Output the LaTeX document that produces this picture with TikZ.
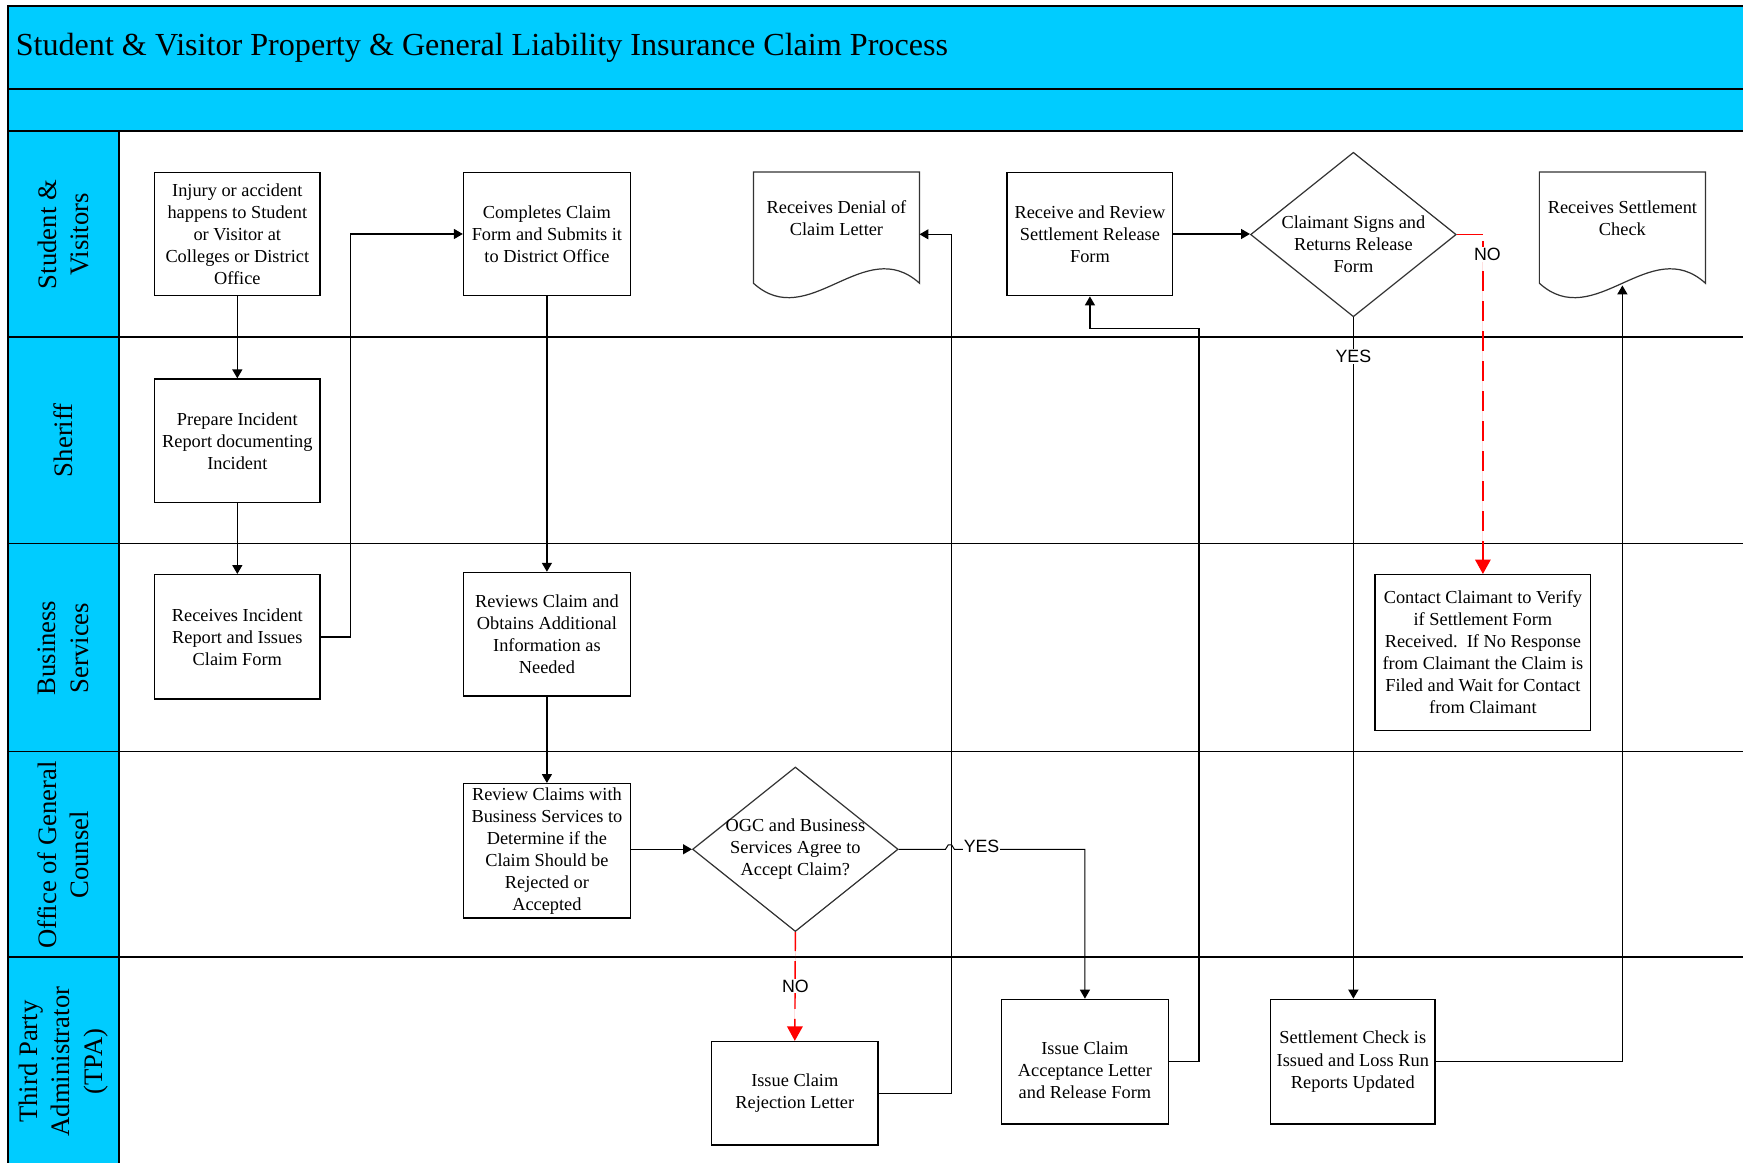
\documentclass[tikz,border=0pt]{standalone}
\usepackage{fontspec}
\setmainfont{Liberation Serif}
\newfontfamily\labelsans{Liberation Sans}
\usetikzlibrary{arrows.meta,shapes.geometric,calc}

\definecolor{laneblue}{HTML}{00CCFF}
\definecolor{nored}{HTML}{FF0000}

\newcommand{\boxfont}{\fontsize{16.5pt}{19.8pt}\selectfont}
\newcommand{\lanefont}{\fontsize{24pt}{29pt}\selectfont}
\newcommand{\titlefont}{\fontsize{28.9pt}{34pt}\selectfont}
\newcommand{\branchfont}{\labelsans\fontsize{16pt}{19pt}\selectfont}

\begin{document}
\begin{tikzpicture}[x=1pt,y=-1pt,
  frame/.style={line width=1.8pt},
  lanerule/.style={line width=1.4pt},
  stepbox/.style={draw, line width=1.3pt, align=center, font=\boxfont, inner sep=1pt,
    minimum width=149pt, minimum height=111pt},
  docbox/.style={align=center, font=\boxfont, inner sep=0pt,
    minimum width=149pt, minimum height=83pt},
  docline/.style={line width=1.1pt, draw=black!80},
  decision/.style={draw=black!80, diamond, line width=1.1pt, inner sep=0pt,
    minimum width=185pt, minimum height=148pt},
  txt/.style={align=center, font=\boxfont, inner sep=0pt},
  lanelabel/.style={rotate=90, align=center, font=\lanefont, inner sep=0pt},
  flow/.style={line width=1.1pt, -{Triangle[length=8pt,width=9pt]}},
  noflow/.style={line width=1.3pt, draw=nored, fill=nored, -{Triangle[length=13pt,width=14pt]}},
  branch/.style={font=\branchfont, fill=white, text=black, inner sep=1pt},
]
\useasboundingbox (0,0) rectangle (1568,1046);

% header bands and lane column
\fill[laneblue] (7,5) rectangle (1568,118);
\fill[laneblue] (7,118) rectangle (107,1046);
\draw[frame] (1568,5) -- (7,5) -- (7,1046);
\draw[frame] (7,80) -- (1568,80);
\draw[frame] (7,118) -- (1568,118);
\draw[lanerule] (107,118) -- (107,1046);
\foreach \y in {303,489,676,861} \draw[lanerule] (7,\y) -- (1568,\y);

\node[anchor=west, font=\titlefont, inner sep=0pt] (title) at (14,43)
  {Student \& Visitor Property \& General Liability Insurance Claim Process};

% lane names
\node[lanelabel] (laneSV) at (57,211) {Student \&\\Visitors};
\node[lanelabel] (laneSh) at (57,396) {Sheriff};
\node[lanelabel] (laneBS) at (57,583) {Business\\Services};
\node[lanelabel] (laneOGC) at (57,769) {Office of General\\Counsel};
\node[lanelabel] (laneTPA) at (57,955) {Third Party\\Administrator\\(TPA)};

% process steps
\node[stepbox] (injury) at (213.5,210.5) {Injury or accident\\happens to Student\\or Visitor at\\Colleges or District\\Office};
\node[stepbox] (report) at (213.5,396.5) {Prepare Incident\\Report documenting\\Incident};
\node[stepbox, minimum height=112pt] (issueform) at (213.5,573) {Receives Incident\\Report and Issues\\Claim Form};
\node[stepbox, minimum width=150pt] (submit) at (492,210.5) {Completes Claim\\Form and Submits it\\to District Office};
\node[stepbox, minimum width=150pt] (review) at (492,570.5) {Reviews Claim and\\Obtains Additional\\Information as\\Needed};
\node[stepbox, minimum width=150pt, minimum height=121pt] (ogcreview) at (492,765.5) {Review Claims with\\Business Services to\\Determine if the\\Claim Should be\\Rejected or\\Accepted};
\node[decision] (agree) at (715.5,764) {};
\node[txt] (agreetext) at (715.5,763.5) {OGC and Business\\Services Agree to\\Accept Claim?};
\node[stepbox, minimum width=150pt, minimum height=93pt] (reject) at (715,983.5) {Issue Claim\\Rejection Letter};
\node[docbox] (denial) at (752.5,196.5) {Receives Denial of\\Claim Letter};
\node[stepbox] (settle) at (980.5,210.5) {Receive and Review\\Settlement Release\\Form};
\node[decision] (signs) at (1217.5,211) {};
\node[txt] (signstext) at (1217.5,220) {Claimant Signs and\\Returns Release\\Form};
\node[docbox] (paid) at (1459.5,196.5) {Receives Settlement\\Check};
\node[stepbox, minimum width=194pt, minimum height=140pt] (contact) at (1334,587) {Contact Claimant to Verify\\if Settlement Form\\Received.\ \ If No Response\\from Claimant the Claim is\\Filed and Wait for Contact\\from Claimant};
\node[stepbox, minimum width=150pt, minimum height=112pt] (accept) at (976,955) {};
\node[txt] (accepttext) at (976,962.5) {Issue Claim\\Acceptance Letter\\and Release Form};
\node[stepbox, minimum width=148pt, minimum height=112pt] (cheque) at (1217,955) {Settlement Check is\\Issued and Loss Run\\Reports Updated};

% document outlines with wavy bottom edge
\foreach \d in {denial,paid}
  \draw[docline] (\d.north west) -- (\d.north east) -- ($(\d.north east)+(0,100)$)
    .. controls ($(\d.north east)+(-49.7,55)$) and ($(\d.north west)+(49.7,145)$)
    .. ($(\d.north west)+(0,100)$) -- cycle;

% connectors
\draw[flow] (injury) -- (report);
\draw[flow] (report) -- (issueform);
\draw[flow] (issueform.east) -- ++(27,0) |- (submit.west);
\draw[flow] (submit) -- (review);
\draw[flow] (review) -- (ogcreview);
\draw[flow] (agree.west -| ogcreview.east) -- (agree.west);

\draw[noflow, dash pattern=on 17pt off 9pt] (agree.south) -- (reject.north);
\node[branch] (noA) at (715.5,887) {NO};

\draw[flow, line width=0.9pt] (agree.east) -- ($(agree.east)+(42,0)$)
  -- ++(2.5,-4) -- ++(3,0) -- ++(2.5,4)
  -- (agree.east -| accept.north) -- (accept.north);
\node[branch] (yesA) at (883,761) {YES};

\draw[flow] (reject.east) -- ++(65,0) |- ($(denial.north east)+(0,56)$);
\draw[flow] (accept.east) -- ++(27,0) |- ($(settle.south)+(0,29)$) -- (settle.south);
\draw[flow] (settle.east) -- (settle.east -| signs.west);

\draw[flow] (signs.south) -- (signs.south |- cheque.north);
\node[branch] (yesB) at (1217.5,321) {YES};

\draw[line width=1.3pt, nored] (signs.east) -- (signs.east -| contact.north);
\draw[noflow, dash pattern=on 18pt off 9pt] ($(signs.east -| contact.north)+(0,6)$) -- (contact.north);
\node[branch] (noB) at (1338,229) {NO};

\draw[flow] (cheque.east) -| ($(paid.north)+(0,102)$);
\end{tikzpicture}
\end{document}
